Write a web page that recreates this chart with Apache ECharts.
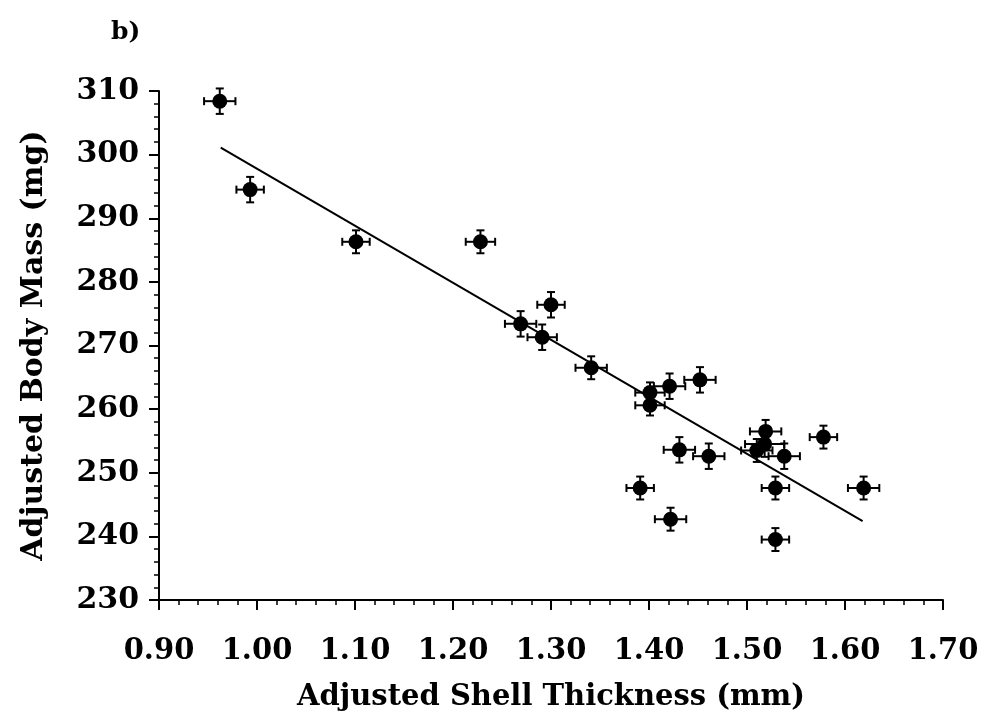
<!DOCTYPE html>
<html>
<head>
<meta charset="utf-8">
<script src="https://cdn.jsdelivr.net/npm/echarts@6/dist/echarts.min.js"></script>
<style>
  html, body { margin: 0; padding: 0; background: #fff; }
  #chart { width: 989px; height: 717px; }
</style>
</head>
<body>
<div id="chart"></div>
<script>
// shell thickness (mm) and body mass (mg)
const thickness = [0.962, 0.993, 1.101, 1.228, 1.300, 1.269, 1.291, 1.341, 1.401, 1.401, 1.421, 1.452,
  1.431, 1.461, 1.391, 1.422, 1.519, 1.518, 1.510, 1.538, 1.578, 1.529, 1.529, 1.619]
const bodyMass = [308.4, 294.5, 286.3, 286.3, 276.4, 273.4, 271.3, 266.5, 262.6, 260.6, 263.6, 264.6,
  253.6, 252.6, 247.6, 242.7, 256.5, 254.5, 253.5, 252.6, 255.6, 247.6, 239.5, 247.6]
// standard errors
const thicknessErr = [0.016, 0.014, 0.014, 0.015, 0.014, 0.016, 0.015, 0.016, 0.015, 0.015, 0.016, 0.016,
  0.016, 0.016, 0.014, 0.016, 0.016, 0.020, 0.016, 0.016, 0.014, 0.014, 0.014, 0.016]
const massErr = [2.0, 2.0, 1.8, 1.8, 2.0, 2.0, 2.0, 1.8, 1.6, 1.6, 2.0, 2.0,
  2.0, 2.0, 1.8, 1.8, 1.8, 2.0, 1.8, 2.0, 1.8, 1.8, 1.8, 1.8]
// fitted regression line end points
const fitLine = [[0.963, 301.1], [1.618, 242.4]]

const points = thickness.map((x, i) => [x, bodyMass[i], thicknessErr[i], massErr[i]])

const font = '"DejaVu Serif", "Liberation Serif", serif'

const chart = echarts.init(document.getElementById('chart'), null, { renderer: 'canvas' })

// error bars with little caps
function renderErrorBars(params, api) {
  const x = api.value(0), y = api.value(1), ex = api.value(2), ey = api.value(3)
  const c = api.coord([x, y])
  const l = api.coord([x - ex, y]), r = api.coord([x + ex, y])
  const t = api.coord([x, y + ey]), b = api.coord([x, y - ey])
  const cap = 4
  const style = { stroke: '#000', lineWidth: 2 }
  const seg = (x1, y1, x2, y2) => ({ type: 'line', shape: { x1, y1, x2, y2 }, style })
  return {
    type: 'group',
    children: [
      seg(l[0], c[1], r[0], c[1]),
      seg(l[0], c[1] - cap, l[0], c[1] + cap),
      seg(r[0], c[1] - cap, r[0], c[1] + cap),
      seg(c[0], t[1], c[0], b[1]),
      seg(c[0] - cap, t[1], c[0] + cap, t[1]),
      seg(c[0] - cap, b[1], c[0] + cap, b[1])
    ]
  }
}

chart.setOption({
  animation: false,
  backgroundColor: '#fff',
  title: {
    text: 'b)',
    left: 106,
    top: 15,
    textStyle: { fontFamily: font, fontWeight: 'bold', fontSize: 25, color: '#000' }
  },
  grid: { left: 159, right: 46, top: 91, bottom: 115 },
  xAxis: {
    type: 'value',
    min: 0.9,
    max: 1.7,
    interval: 0.1,
    name: 'Adjusted Shell Thickness (mm)',
    nameLocation: 'middle',
    nameGap: 83,
    nameTextStyle: { fontFamily: font, fontWeight: 'bold', fontSize: 29, color: '#000' },
    axisLine: { lineStyle: { color: '#000', width: 2 } },
    axisTick: { length: 10, lineStyle: { color: '#000', width: 2 } },
    minorTick: { show: true, splitNumber: 5, length: 5, lineStyle: { color: '#000', width: 1.5 } },
    splitLine: { show: false },
    axisLabel: {
      margin: 37,
      fontFamily: font, fontWeight: 'bold', fontSize: 29, color: '#000',
      formatter: v => v.toFixed(2)
    }
  },
  yAxis: {
    type: 'value',
    min: 230,
    max: 310,
    interval: 10,
    name: 'Adjusted Body Mass (mg)',
    nameLocation: 'middle',
    nameGap: 110,
    nameTextStyle: { fontFamily: font, fontWeight: 'bold', fontSize: 30, color: '#000' },
    axisLine: { lineStyle: { color: '#000', width: 2 } },
    axisTick: { length: 10, lineStyle: { color: '#000', width: 2 } },
    minorTick: { show: true, splitNumber: 5, length: 5, lineStyle: { color: '#000', width: 1.5 } },
    splitLine: { show: false },
    axisLabel: { margin: 20, fontFamily: font, fontWeight: 'bold', fontSize: 30, color: '#000' }
  },
  series: [
    {
      type: 'line',
      data: fitLine,
      symbol: 'none',
      lineStyle: { color: '#000', width: 2 },
      z: 1
    },
    {
      type: 'custom',
      renderItem: renderErrorBars,
      data: points,
      z: 2
    },
    {
      type: 'scatter',
      data: points,
      symbol: 'circle',
      symbolSize: 15,
      itemStyle: { color: '#000', opacity: 1 },
      z: 3
    }
  ]
})
</script>
</body>
</html>
